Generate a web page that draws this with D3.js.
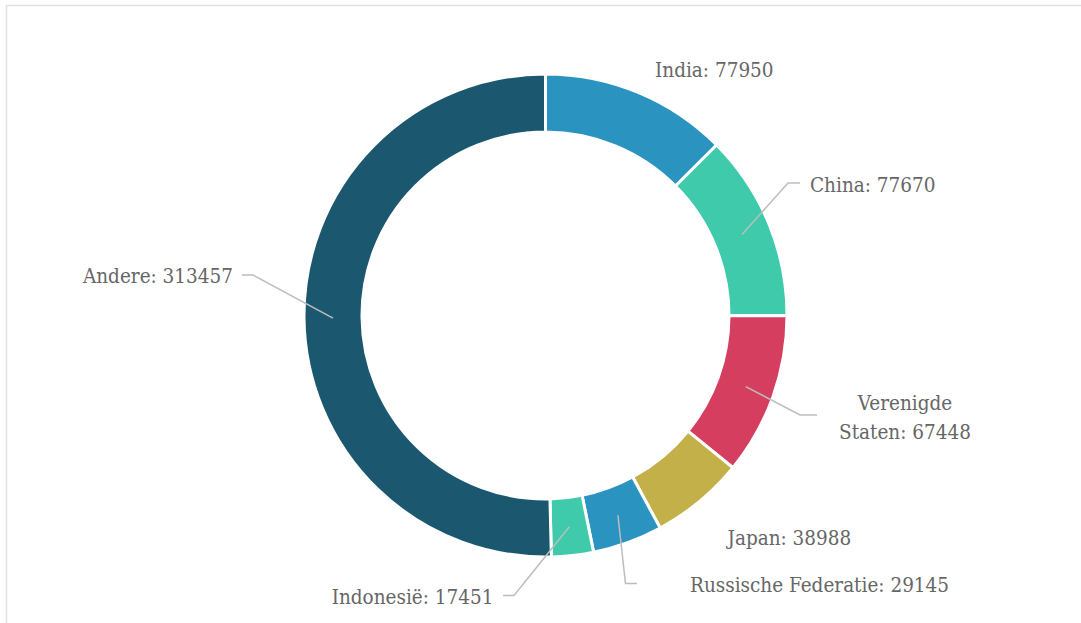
<!DOCTYPE html>
<html><head><meta charset="utf-8">
<script src="https://cdn.jsdelivr.net/npm/d3@7"></script>
<style>body{margin:0;background:#fff;overflow:hidden} svg{display:block}</style>
</head><body>
<svg id="chart" width="1081" height="623"></svg>
<script>
const categories = ["India", "China", "Verenigde Staten", "Japan", "Russische Federatie", "Indonesië", "Andere"];
const values = [77950, 77670, 67448, 38988, 29145, 17451, 313457];
const labelLines = [["India: 77950"], ["China: 77670"], ["Verenigde", "Staten: 67448"], ["Japan: 38988"], ["Russische Federatie: 29145"], ["Indonesië: 17451"], ["Andere: 313457"]];
const colors = ["#2b93bf", "#3fcaab", "#d53e5f", "#c3b048", "#2b93bf", "#3fcaab", "#1b5870"];

const W = 1081, H = 623;
const cx = 545.5, cy = 315.5, rOuter = 241.5, rInner = 183.5;

// label layout (offsets relative to centre): elbow, end of connector, text anchor point
const layout = [
  {elbow: null, end: null, tx: 109.5, ty: -238.5, anchor: "start"},
  {elbow: [242.5, -132.5], end: [254.5, -132.5], tx: 264.5, ty: -123.5, anchor: "start"},
  {elbow: [254.5, 99.5], end: [271.5, 99.5], tx: 359.5, ty: 94, anchor: "middle"},
  {elbow: null, end: null, tx: 182, ty: 229.5, anchor: "start"},
  {elbow: [80, 268], end: [91.5, 268], tx: 144.5, ty: 276.5, anchor: "start"},
  {elbow: [-31.5, 280], end: [-42.5, 280], tx: -52, ty: 288, anchor: "end"},
  {elbow: [-292.5, -40.5], end: [-303.5, -40.5], tx: -312.5, ty: -32.5, anchor: "end"}
];

const svg = d3.select("#chart");
svg.append("rect").attr("x", 6.5).attr("y", 5.5).attr("width", W + 20).attr("height", H + 20)
  .attr("fill", "none").attr("stroke", "#e2e2e2").attr("stroke-width", 1.5);

const data = categories.map((c, i) => ({name: c, value: values[i], i}));
const pie = d3.pie().value(d => d.value).sort(null);
const arcs = pie(data);
const arc = d3.arc().innerRadius(rInner).outerRadius(rOuter);

const g = svg.append("g").attr("transform", `translate(${cx},${cy})`);
g.selectAll("path.slice").data(arcs).join("path")
  .attr("class", "slice")
  .attr("d", arc)
  .attr("fill", d => colors[d.data.i])
  .attr("stroke", "#fff").attr("stroke-width", 3).attr("stroke-linejoin", "round");

g.selectAll("path.conn").data(arcs.filter(d => layout[d.data.i].elbow)).join("path")
  .attr("class", "conn")
  .attr("fill", "none").attr("stroke", "#bdbdbd").attr("stroke-width", 1.5)
  .attr("d", d => {
    const L = layout[d.data.i];
    const c = arc.centroid(d);
    return d3.line()([c, L.elbow, L.end]);
  });

const fontFamily = "'DejaVu Serif Condensed', 'DejaVu Serif', serif";
const labels = g.selectAll("text.lbl").data(arcs).join("text")
  .attr("class", "lbl")
  .attr("x", d => layout[d.data.i].tx)
  .attr("y", d => layout[d.data.i].ty)
  .attr("text-anchor", d => layout[d.data.i].anchor)
  .attr("fill", "#666")
  .style("font-family", fontFamily)
  .style("font-stretch", "condensed")
  .style("font-size", "20.5px");
labels.each(function(d) {
  const t = d3.select(this);
  labelLines[d.data.i].forEach((ln, k) => {
    t.append("tspan").attr("x", layout[d.data.i].tx).attr("dy", k === 0 ? 0 : 29.5).text(ln);
  });
});
</script>
</body></html>
